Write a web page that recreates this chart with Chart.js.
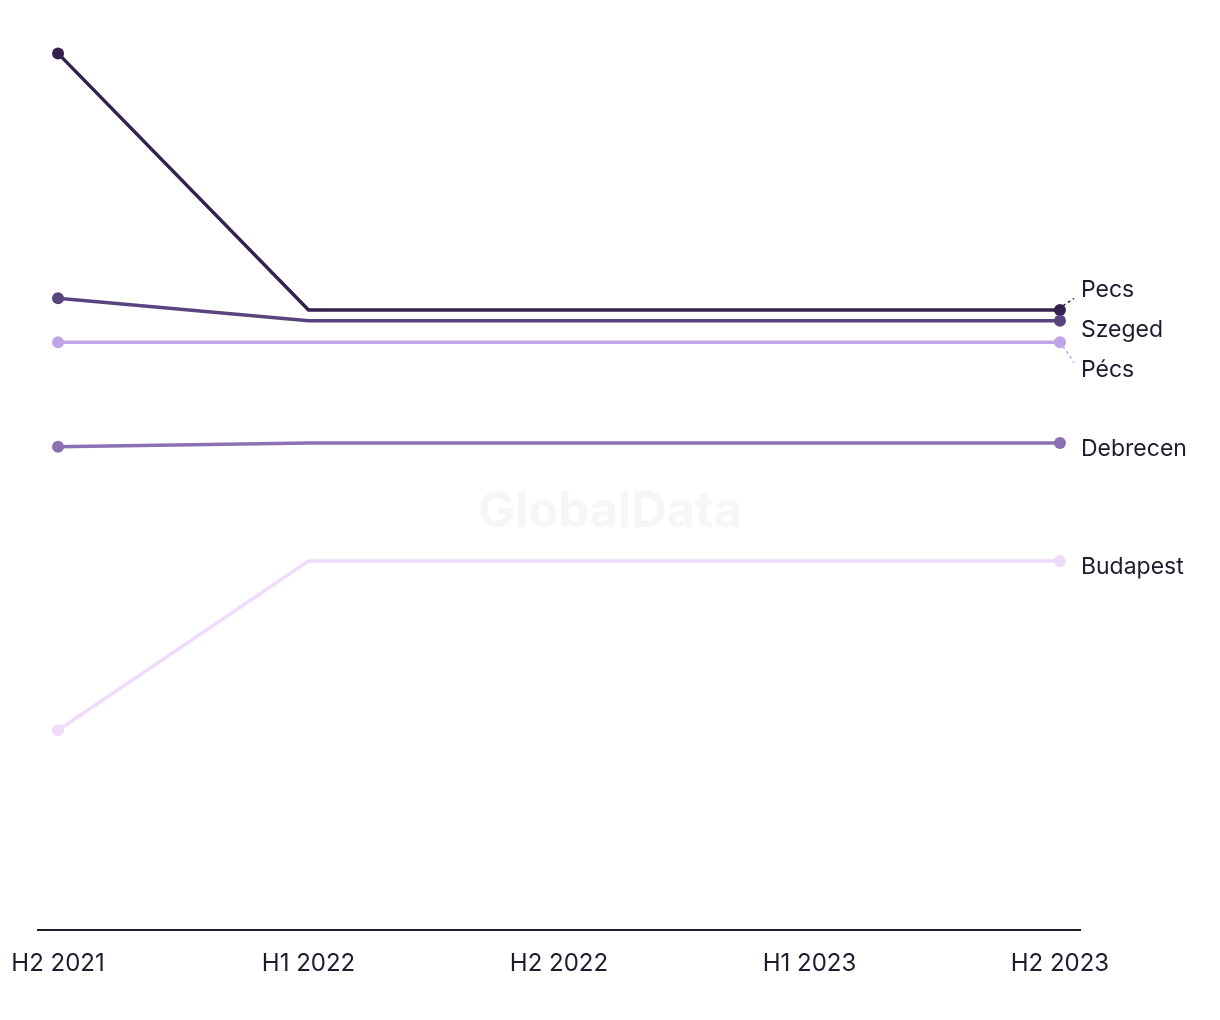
<!DOCTYPE html>
<html>
<head>
<meta charset="utf-8">
<script src="https://cdn.jsdelivr.net/npm/chart.js@4"></script>
<style>
  html, body { margin: 0; padding: 0; background: #fff; }
  #wrap { width: 1220px; height: 1020px; }
</style>
</head>
<body>
<div id="wrap"><canvas id="c" width="1220" height="1020"></canvas></div>
<script>
// periodi sull'asse x
const periods = ["H2 2021", "H1 2022", "H2 2022", "H1 2023", "H2 2023"];

// valori (scala arbitraria, 0-100)
const pecs     = [97.4, 68.9, 68.9, 68.9, 68.9];
const szeged   = [70.2, 67.7, 67.7, 67.7, 67.7];
const pecsAcc  = [65.3, 65.3, 65.3, 65.3, 65.3];
const debrecen = [53.7, 54.1, 54.1, 54.1, 54.1];
const budapest = [22.2, 41.0, 41.0, 41.0, 41.0];

const seriesNames = ["Budapest", "Debrecen", "Pécs", "Szeged", "Pecs"];
const seriesValues = [budapest, debrecen, pecsAcc, szeged, pecs];
const seriesColors = ["#f0dcfa", "#8b70b3", "#c0a5e6", "#5a4480", "#35224f"];

const FONT = "Inter, 'Noto Sans', sans-serif";
const TEXT = "#1c1c2e";

const mkDataset = (name, vals, color) => ({
  label: name,
  data: vals.map((v, i) => ({ x: i, y: v })),
  borderColor: color,
  backgroundColor: color,
  borderWidth: 3.5,
  pointRadius: vals.map((_, i) => (i === 0 || i === vals.length - 1 ? 6 : 0)),
  pointHoverRadius: 6,
  pointBorderWidth: 0,
  tension: 0,
});

// etichette a destra con piccola gestione delle sovrapposizioni
const endLabels = {
  id: "endLabels",
  afterDatasetsDraw(chart) {
    const { ctx } = chart;
    const items = chart.data.datasets.map((ds, i) => {
      const meta = chart.getDatasetMeta(i);
      const pt = meta.data[meta.data.length - 1];
      return { text: ds.label, color: ds.borderColor, px: pt.x, py: pt.y, y: pt.y + 6 };
    }).sort((a, b) => a.y - b.y);

    const gap = 40;
    // raggruppa le etichette troppo vicine e distribuiscile intorno alla media
    let groups = items.map(it => [it]);
    let changed = true;
    while (changed) {
      changed = false;
      for (const g of groups) {
        const mean = g.reduce((s, it) => s + it.y, 0) / g.length;
        g.forEach((it, k) => { it.ly = mean + (k - (g.length - 1) / 2) * gap; });
      }
      for (let i = 0; i < groups.length - 1; i++) {
        const a = groups[i], b = groups[i + 1];
        if (b[0].ly - a[a.length - 1].ly < gap) {
          groups.splice(i, 2, a.concat(b));
          changed = true;
          break;
        }
      }
    }

    ctx.save();
    ctx.font = `23px ${FONT}`;
    ctx.textBaseline = "middle";
    ctx.textAlign = "left";
    for (const it of items) {
      const dy = it.ly - it.y;
      if (Math.abs(dy) > 4) {
        ctx.setLineDash([3, 3]);
        ctx.strokeStyle = it.color;
        ctx.lineWidth = 1.5;
        ctx.beginPath();
        const dir = dy < 0 ? -1 : 1;
        ctx.moveTo(it.px + 3, it.py + dir * 4);
        ctx.lineTo(it.px + 14, it.ly - dir * 8);
        ctx.stroke();
        ctx.setLineDash([]);
      }
      ctx.fillStyle = TEXT;
      ctx.fillText(it.text, it.px + 21, it.ly);
    }
    ctx.restore();
  },
};

const watermark = {
  id: "watermark",
  beforeDatasetsDraw(chart) {
    const { ctx } = chart;
    ctx.save();
    ctx.font = `bold 49px ${FONT}`;
    ctx.fillStyle = "#f6f6f6";
    ctx.textAlign = "center";
    ctx.textBaseline = "middle";
    ctx.fillText("GlobalData", 610, 512);
    ctx.restore();
  },
};

new Chart(document.getElementById("c"), {
  type: "line",
  data: { datasets: seriesNames.map((n, i) => mkDataset(n, seriesValues[i], seriesColors[i])) },
  plugins: [watermark, endLabels],
  options: {
    responsive: false,
    animation: false,
    layout: { padding: { top: 30, right: 140, left: 38, bottom: 0 } },
    plugins: { legend: { display: false }, tooltip: { enabled: false } },
    scales: {
      x: {
        type: "linear",
        min: -0.08,
        max: 4.08,
        afterFit: (s) => { s.height = 90; s.paddingLeft = 0; s.paddingRight = 0; },
        afterBuildTicks: (s) => { s.ticks = periods.map((_, i) => ({ value: i })); },
        grid: { display: false, drawTicks: false },
        border: { display: true, color: "#1c1c2e", width: 2 },
        ticks: {
          padding: 19,
          color: TEXT,
          font: { family: FONT, size: 24 },
          maxRotation: 0,
          callback: (v) => periods[v] ?? "",
        },
      },
      y: {
        display: false,
        min: 0,
        max: 100,
      },
    },
  },
});
</script>
</body>
</html>
